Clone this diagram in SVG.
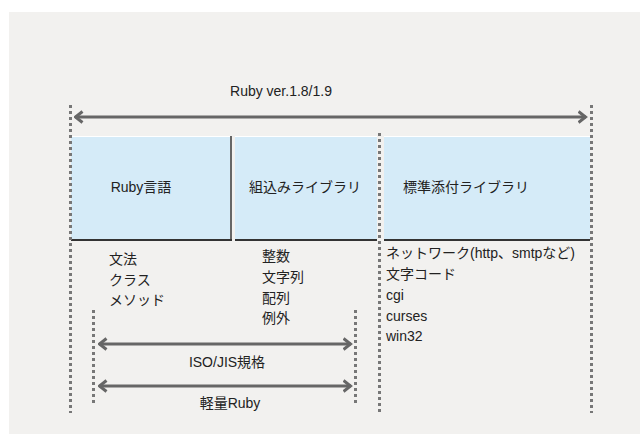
<svg xmlns="http://www.w3.org/2000/svg" width="640" height="434" viewBox="0 0 640 434">
<style>
text{font-family:"Liberation Sans","Noto Sans CJK JP",sans-serif;font-size:14px;fill:#222}
.dot{stroke:#777;stroke-width:3;stroke-dasharray:3 3;fill:none}
.arr{stroke:#666;stroke-width:3;fill:none;marker-start:url(#ah);marker-end:url(#ah)}
.box{fill:#d5ebf8}
.edge{stroke:#333;stroke-width:2;fill:none}
.redge{stroke:#666;stroke-width:2;fill:none}
.hl{stroke:#fff;stroke-width:1;fill:none}
</style>
<defs>
<marker id="ah" viewBox="-1 -7 10 14" markerWidth="10" markerHeight="14" refX="7.5" refY="0" orient="auto-start-reverse" markerUnits="userSpaceOnUse">
<path d="M0,-5.5 L7,0 L0,5.5" stroke="#666" stroke-width="3" fill="none" stroke-linejoin="miter"/>
</marker>
</defs>
<rect x="9" y="12" width="631" height="422" fill="#f2f1ef"/>
<g id="boxes">
<g id="ruby-lang">
<rect class="box" x="71" y="136" width="160" height="104"/>
<line class="hl" x1="71" y1="136.5" x2="231" y2="136.5"/>
<line class="redge" x1="231" y1="136" x2="231" y2="240"/>
<line class="edge" x1="71" y1="240" x2="232" y2="240"/>
<text x="141" y="192" text-anchor="middle">Ruby言語</text>
</g>
<g id="builtin">
<rect class="box" x="235" y="136" width="142" height="104"/>
<line class="hl" x1="235" y1="136.5" x2="377" y2="136.5"/>
<line class="edge" x1="235" y1="240" x2="377" y2="240"/>
<text x="305" y="192" text-anchor="middle">組込みライブラリ</text>
</g>
<g id="stdlib">
<rect class="box" x="384" y="136" width="206" height="104"/>
<line class="hl" x1="384" y1="136.5" x2="590" y2="136.5"/>
<line class="edge" x1="384" y1="240" x2="590" y2="240"/>
<text x="466" y="192" text-anchor="middle">標準添付ライブラリ</text>
</g>
</g>
<g id="connectors">
<line class="dot" x1="70.5" y1="105" x2="70.5" y2="413"/>
<line class="dot" x1="591.5" y1="105" x2="591.5" y2="413"/>
<line class="dot" x1="379.5" y1="133" x2="379.5" y2="413"/>
<line class="dot" x1="93.5" y1="310" x2="93.5" y2="404"/>
<line class="dot" x1="355.5" y1="310" x2="355.5" y2="404"/>
<line class="arr" x1="75" y1="117" x2="586" y2="117"/>
<line class="arr" x1="99" y1="344" x2="351" y2="344"/>
<line class="arr" x1="99" y1="386" x2="351" y2="386"/>
</g>
<g id="labels">
<text x="281" y="96" text-anchor="middle">Ruby ver.1.8/1.9</text>
<text x="227" y="367" text-anchor="middle">ISO/JIS規格</text>
<text x="230" y="408" text-anchor="middle">軽量Ruby</text>
</g>
<g id="lang-items">
<text x="109" y="264">文法</text>
<text x="109" y="285">クラス</text>
<text x="109" y="305">メソッド</text>
</g>
<g id="builtin-items">
<text x="262" y="261">整数</text>
<text x="262" y="282">文字列</text>
<text x="262" y="303">配列</text>
<text x="262" y="323">例外</text>
</g>
<g id="stdlib-items">
<text x="386" y="258">ネットワーク(http、smtpなど)</text>
<text x="386" y="279">文字コード</text>
<text x="386" y="300">cgi</text>
<text x="386" y="321">curses</text>
<text x="386" y="341">win32</text>
</g>
</svg>
